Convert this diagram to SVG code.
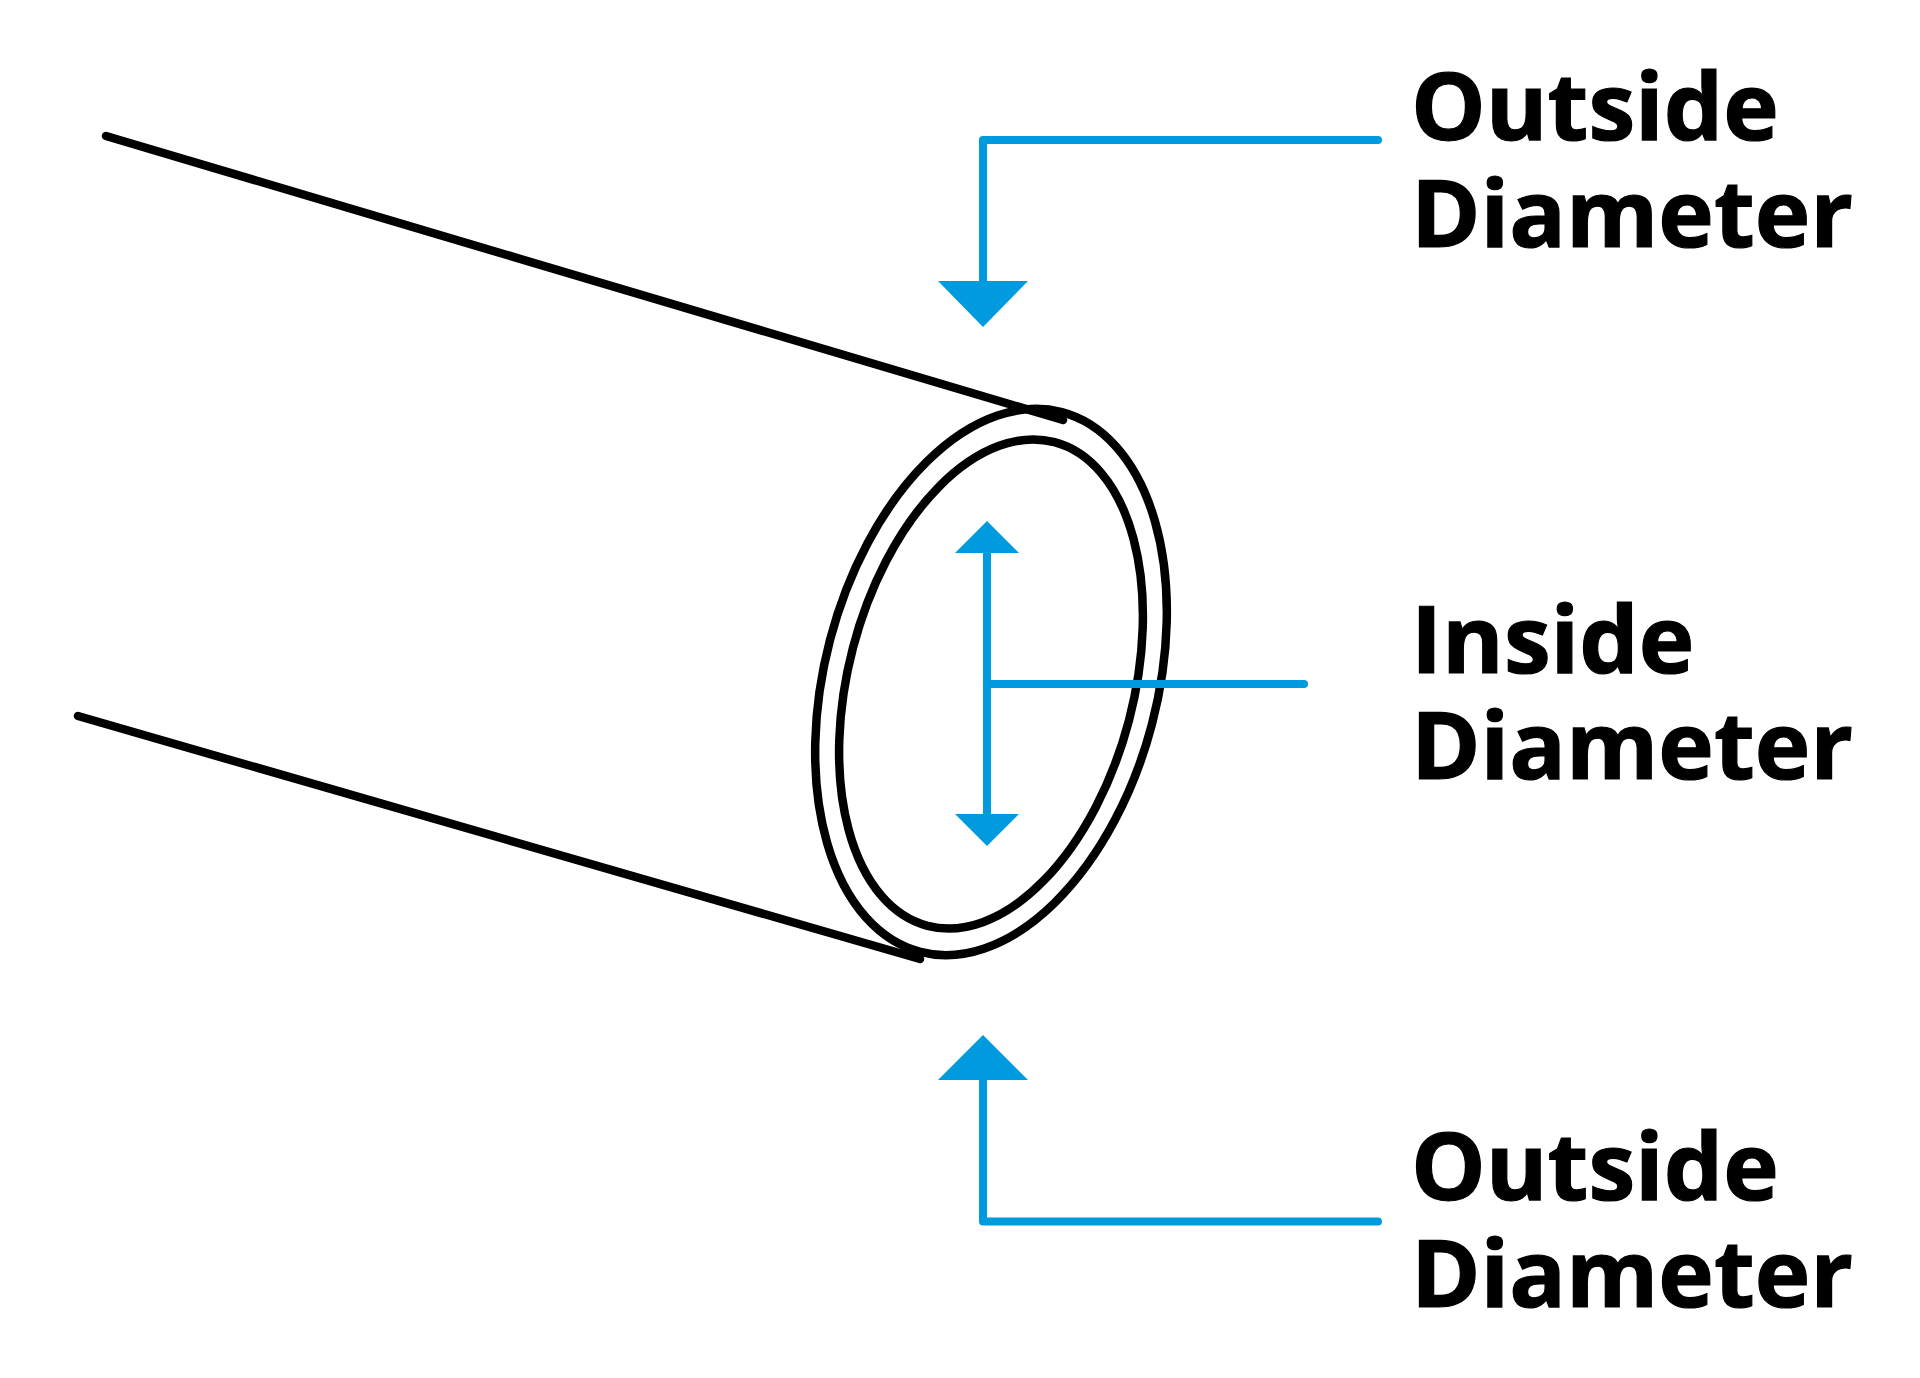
<svg xmlns="http://www.w3.org/2000/svg" width="1920" height="1378" viewBox="0 0 1920 1378">
<style>
.k{fill:none;stroke:#000;stroke-width:8.5;stroke-linecap:round;stroke-linejoin:round}
.b{fill:none;stroke:#009ade;stroke-width:8;stroke-linecap:round;stroke-linejoin:round}
.a{fill:#009ade}
text{font-family:"Open Sans","Noto Sans",sans-serif;font-weight:700;font-size:94px;fill:#000;stroke:#000;stroke-width:1.2}
</style>
<rect width="1920" height="1378" fill="#fff"/>
<g id="pipe">
<path class="k" d="M106 136L1063 420"/>
<path class="k" d="M78 716L920 959"/>
<ellipse class="k" cx="991" cy="682" rx="166.4" ry="279" transform="rotate(14.7 991 682)"/>
<ellipse class="k" cx="991" cy="684" rx="142.7" ry="250" transform="rotate(14.7 991 684)"/>
</g>
<g id="connectors">
<path class="b" d="M1378 140H983V285"/>
<polygon class="a" points="938,281 1028,281 983,327"/>
<path class="b" d="M1378 1221.500H983V1075"/>
<polygon class="a" points="938,1080 1028,1080 983,1035"/>
<path class="b" d="M987 550V815"/>
<polygon class="a" points="955,553 1019,553 987,521"/>
<polygon class="a" points="955,814 1019,814 987,846"/>
<path class="b" d="M987 684H1304"/>
</g>
<g id="label-top"><text x="1411" y="140">Outside</text><text x="1411" y="247">Diameter</text></g>
<g id="label-mid"><text x="1411" y="673">Inside</text><text x="1411" y="779">Diameter</text></g>
<g id="label-bot"><text x="1411" y="1200">Outside</text><text x="1411" y="1307">Diameter</text></g>
</svg>
